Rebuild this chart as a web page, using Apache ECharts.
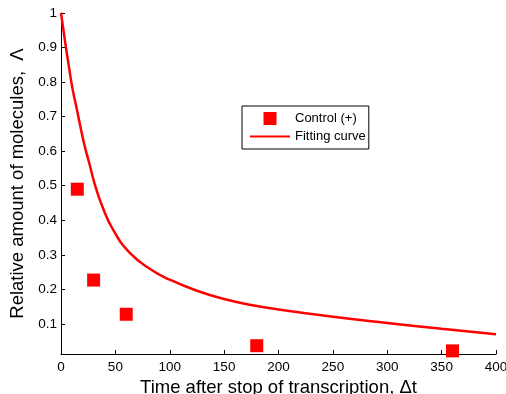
<!DOCTYPE html>
<html>
<head>
<meta charset="utf-8">
<script src="https://cdn.jsdelivr.net/npm/echarts@6/dist/echarts.min.js"></script>
<style>html,body{margin:0;padding:0;background:#fff}#c{width:506px;height:394px}</style>
</head>
<body>
<div id="c"></div>
<script>
// Measured data (Control (+))
var controlT = [15, 30, 60, 180, 360];
var controlV = [0.49, 0.227, 0.128, 0.037, 0.022];
// Fitting curve
var fitT = [0, 9.5, 14, 21, 26, 31, 38, 48, 63.5, 83, 100, 125, 150, 175, 200, 250, 300, 350, 400];
var fitV = [1.0, 0.8, 0.73, 0.625, 0.565, 0.505, 0.44, 0.372, 0.305, 0.257, 0.228, 0.196, 0.172, 0.155, 0.142, 0.121, 0.103, 0.086, 0.070];
var xTicks = [0, 50, 100, 150, 200, 250, 300, 350, 400];
var yTicks = [0.1, 0.2, 0.3, 0.4, 0.5, 0.6, 0.7, 0.8, 0.9, 1];

var FONT = 'Liberation Sans, Arial, Helvetica, sans-serif';
var chart = echarts.init(document.getElementById('c'), null, {renderer: 'canvas'});
chart.setOption({
  animation: false,
  backgroundColor: '#fff',
  grid: {left: 61, right: 10, top: 13, bottom: 40, outerBoundsMode: 'none', containLabel: false},
  legend: {
    left: 242, top: 106,
    orient: 'vertical',
    backgroundColor: '#fff',
    borderColor: '#000', borderWidth: 1,
    padding: [6, 3, 6, 7],
    itemWidth: 40, itemHeight: 13, itemGap: 5,
    textStyle: {fontFamily: FONT, fontSize: 13, color: '#000'},
    data: [
      {name: 'Control (+)', icon: 'path://M0,0L10,0L10,10L0,10Z'},
      {name: 'Fitting curve', itemStyle: {opacity: 0}}
    ]
  },
  xAxis: {
    type: 'value', min: 0, max: 400,
    name: 'Time after stop of transcription, \u0394t',
    nameLocation: 'middle', nameGap: 15,
    nameTextStyle: {fontFamily: FONT, fontSize: 18.5, color: '#000'},
    axisLine: {lineStyle: {color: '#000', width: 1}},
    axisTick: {inside: true, length: 4, customValues: xTicks, lineStyle: {color: '#000'}},
    axisLabel: {customValues: xTicks, margin: 6, fontFamily: FONT, fontSize: 13.5, color: '#000'},
    splitLine: {show: false}
  },
  yAxis: {
    type: 'value', min: 0.013, max: 1,
    name: 'Relative amount of molecules,  \u039b',
    nameLocation: 'middle', nameGap: 25,
    nameTextStyle: {fontFamily: FONT, fontSize: 18.5, color: '#000'},
    axisLine: {show: true, lineStyle: {color: '#000', width: 1}},
    axisTick: {show: true, inside: true, length: 4, customValues: yTicks, lineStyle: {color: '#000'}},
    axisLabel: {customValues: yTicks, margin: 4, fontFamily: FONT, fontSize: 13.5, color: '#000'},
    splitLine: {show: false}
  },
  series: [
    {
      name: 'Control (+)', type: 'scatter',
      symbol: 'rect', symbolSize: 13, symbolKeepAspect: true,
      itemStyle: {color: '#ff0000', opacity: 1},
      data: controlT.map(function (t, i) { return [t, controlV[i]]; }),
      z: 3
    },
    {
      name: 'Fitting curve', type: 'line',
      symbol: 'none', showSymbol: false, smooth: 0.5,
      lineStyle: {color: '#ff0000', width: 2.5},
      itemStyle: {color: '#ff0000'},
      data: fitT.map(function (t, i) { return [t, fitV[i]]; }),
      z: 2
    }
  ]
});
</script>
</body>
</html>
